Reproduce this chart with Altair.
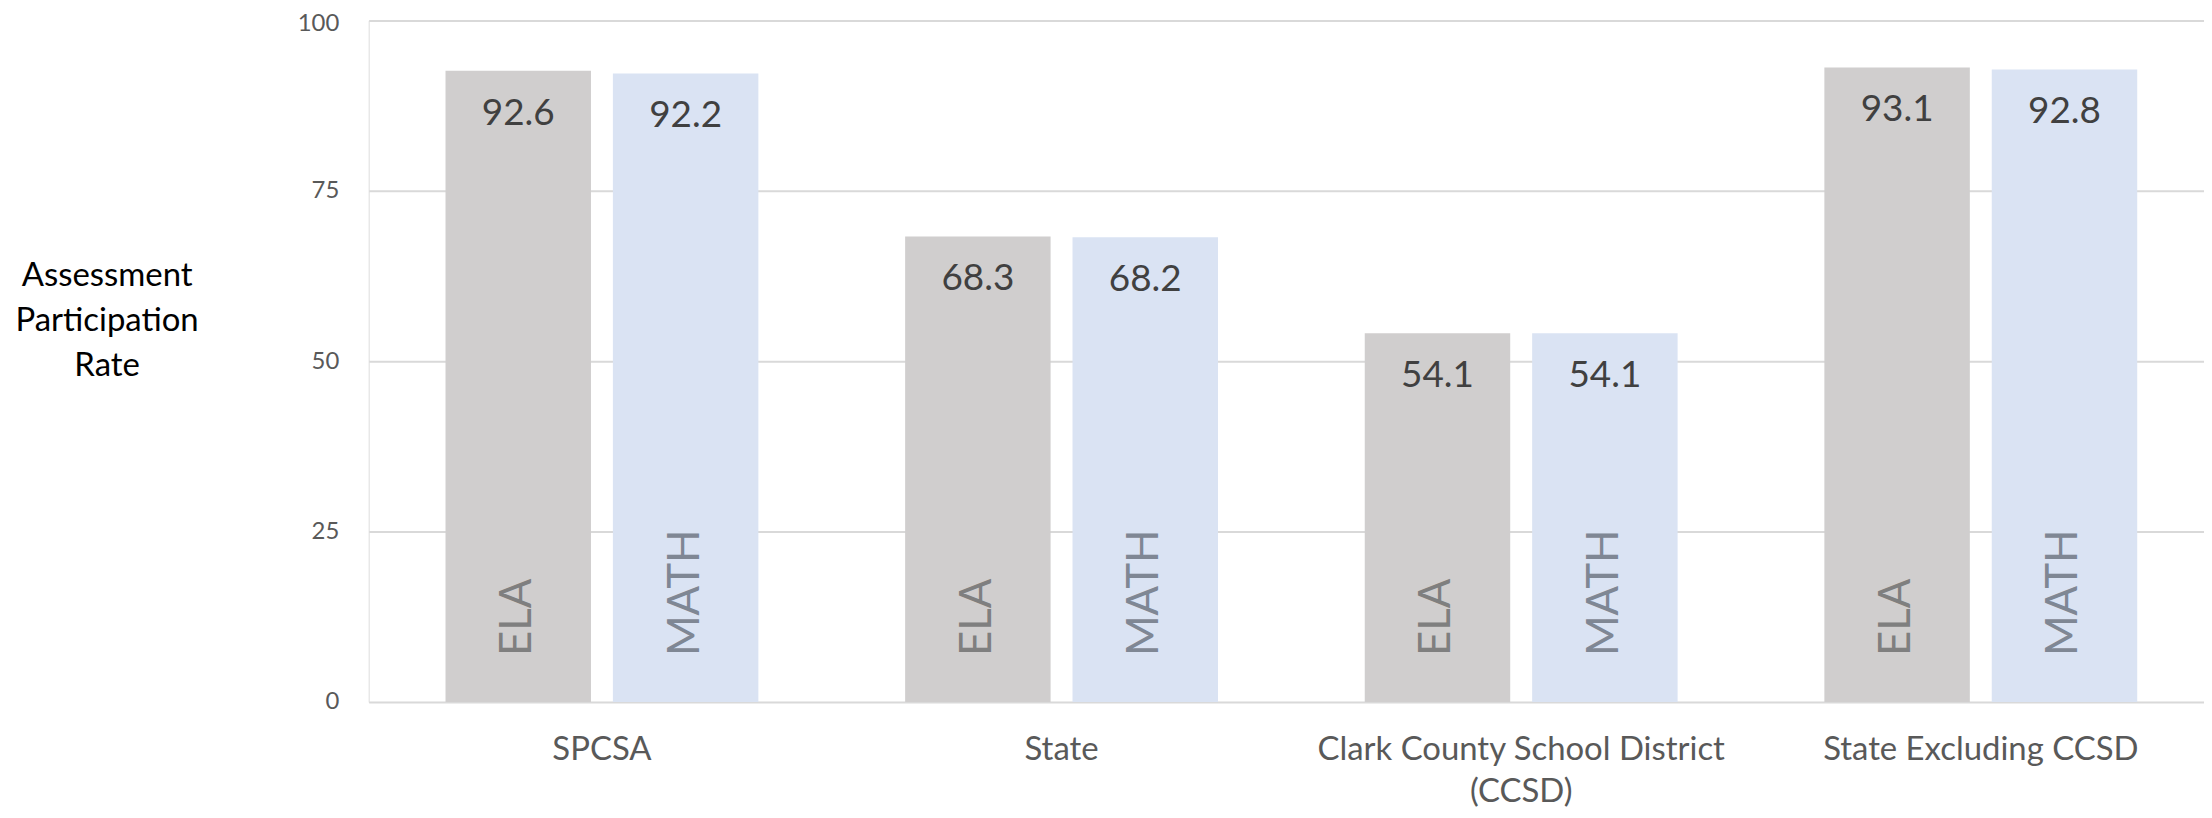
import altair as alt
import pandas as pd

categories = ["SPCSA", "State", "Clark County School District (CCSD)", "State Excluding CCSD"]
subjects = ["ELA", "MATH"]
ela_values = [92.6, 68.3, 54.1, 93.1]
math_values = [92.2, 68.2, 54.1, 92.8]
y_ticks = [0, 25, 50, 75, 100]

rows = []
for c, e, m in zip(categories, ela_values, math_values):
    rows.append({"category": c, "subject": "ELA", "value": e})
    rows.append({"category": c, "subject": "MATH", "value": m})
df = pd.DataFrame(rows)

FONT = "Lato"

x_enc = alt.X(
    "category:N",
    sort=categories,
    scale=alt.Scale(paddingInner=0.3193, paddingOuter=0.1562, align=0.535),
    axis=alt.Axis(
        title=None,
        labelAngle=0,
        labelFont=FONT,
        labelFontSize=33,
        labelColor="#595959",
        labelPadding=32,
        labelBaseline="top",
        labelLineHeight=42,
        labelLimit=0,
        domain=False,
        ticks=False,
        labelExpr="datum.label == 'Clark County School District (CCSD)' ? ['Clark County School District', '(CCSD)'] : datum.label",
    ),
)
xoff = alt.XOffset("subject:N", sort=subjects, scale=alt.Scale(paddingInner=0.131, paddingOuter=0))
color_enc = alt.Color(
    "subject:N",
    scale=alt.Scale(domain=subjects, range=["#d0cece", "#dae3f3"]),
    legend=None,
)

y_enc = alt.Y(
    "value:Q",
    scale=alt.Scale(domain=[0, 100], nice=False),
    axis=alt.Axis(
        values=y_ticks,
        title=["Assessment", "Participation", "Rate"],
        titleAngle=0,
        titleAlign="center",
        titleBaseline="middle",
        titleX=-263,
        titleY=256,
        titleFont=FONT,
        titleFontSize=33,
        titleFontWeight="normal",
        titleColor="#000000",
        titleLineHeight=45,
        labelFont=FONT,
        labelFontSize=24,
        labelColor="#595959",
        labelPadding=30,
        labelOffset={"condition": {"test": "datum.value == 100", "value": 3}, "value": 0},
        domain=False,
        ticks=False,
        grid=True,
        gridColor="#d9d9d9",
        gridWidth=2,
    ),
)

base = alt.Chart(df)

bars = base.mark_bar().encode(x=x_enc, xOffset=xoff, y=y_enc, color=color_enc)

values = base.mark_text(
    baseline="alphabetic", dy=54, font=FONT, fontSize=37, color="#404040"
).encode(x=x_enc, xOffset=xoff, y=alt.Y("value:Q"), text=alt.Text("value:Q", format=".1f"))

subj_labels = base.mark_text(
    angle=270, align="left", baseline="middle", dx=46, font=FONT, fontSize=44
).encode(
    x=x_enc,
    xOffset=xoff,
    y=alt.datum(0),
    text="subject:N",
    color=alt.Color(
        "subject:N",
        scale=alt.Scale(domain=subjects, range=["#7f7f7f", "#7f8794"]),
        legend=None,
    ),
)

chart = (
    alt.layer(bars, values, subj_labels)
    .resolve_scale(color="independent")
    .properties(
        width=1842,
        height=684,
        autosize=alt.AutoSizeParams(type="none"),
        padding={"left": 362, "top": 11, "right": 0, "bottom": 107},
    )
    .configure_view(stroke=None)
    .configure(font=FONT)
)

chart.save("out.html", embed_options={"renderer": "svg", "actions": False})
